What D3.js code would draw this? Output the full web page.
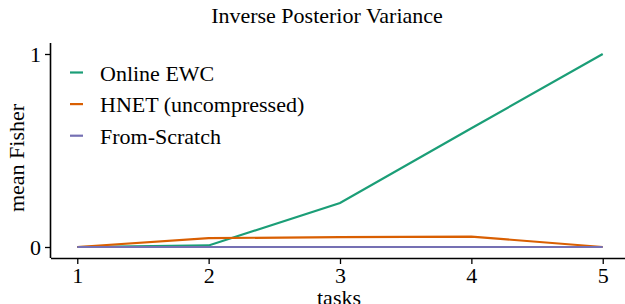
<!DOCTYPE html>
<html>
<head>
<meta charset="utf-8">
<script src="https://cdn.jsdelivr.net/npm/d3@7"></script>
<style>
  body { margin: 0; background: #fff; }
  svg { display: block; font-family: "Liberation Serif", "DejaVu Serif", serif; }
</style>
</head>
<body>
<svg id="chart" width="625" height="304"></svg>
<script>
const tasks = [1, 2, 3, 4, 5];
const onlineEwc = [0, 0.008, 0.228, 0.615, 1.0];
const hnet = [0, 0.046, 0.051, 0.054, 0];
const fromScratch = [0, 0, 0, 0, 0];
const seriesNames = ["Online EWC", "HNET (uncompressed)", "From-Scratch"];
const seriesColors = ["#1b9e77", "#d95f02", "#7570b3"];
const yTicks = [0, 1];

const svg = d3.select("#chart");
const plotLeft = 51, plotRight = 629, plotTop = 43, plotBottom = 258;
const fontSize = "22px";

const x = d3.scaleLinear().domain([0.8, 5.2]).range([plotLeft, plotRight]);
const y = d3.scaleLinear().domain([-0.057, 1.057]).range([plotBottom, plotTop]);

const allSeries = [onlineEwc, hnet, fromScratch];

// lines, purple drawn last so it sits on top like the reference
const line = d3.line().x((d, i) => x(tasks[i])).y(d => y(d));
allSeries.forEach((s, k) => {
  svg.append("path")
    .datum(s)
    .attr("fill", "none")
    .attr("stroke", seriesColors[k])
    .attr("stroke-width", 2.2)
    .attr("d", line);
});

// axes
const xAxis = d3.axisBottom(x).tickValues(tasks).tickFormat(d3.format("d")).tickSize(6).tickPadding(3);
const yAxis = d3.axisLeft(y).tickValues(yTicks).tickFormat(d3.format("d")).tickSize(6).tickPadding(4);

const gx = svg.append("g").attr("transform", `translate(0,${plotBottom})`).call(xAxis);
const gy = svg.append("g").attr("transform", `translate(${plotLeft},0)`).call(yAxis);
[gx, gy].forEach(g => {
  g.select(".domain").attr("stroke", "#000").attr("stroke-width", 1.6);
  g.selectAll(".tick line").attr("stroke", "#000").attr("stroke-width", 1.3);
  g.selectAll(".tick text").attr("fill", "#000")
    .style("font-family", "Liberation Serif, serif").style("font-size", fontSize);
});
gx.select(".domain").attr("d", `M${plotLeft},0.5H${plotRight}`);
gy.select(".domain").attr("d", `M-0.5,${plotTop}V${plotBottom}`);

// title and labels
svg.append("text").attr("x", 327).attr("y", 23).attr("text-anchor", "middle")
  .style("font-size", fontSize).text("Inverse Posterior Variance");
svg.append("text").attr("x", 339).attr("y", 305).attr("text-anchor", "middle")
  .style("font-size", fontSize).text("tasks");
svg.append("text").attr("transform", "translate(24,158) rotate(-90)").attr("text-anchor", "middle")
  .style("font-size", fontSize).text("mean Fisher");

// legend
const legend = svg.append("g");
seriesNames.forEach((name, i) => {
  const ly = 72.5 + i * 31.6;
  legend.append("line").attr("x1", 70).attr("x2", 83).attr("y1", ly).attr("y2", ly)
    .attr("stroke", seriesColors[i]).attr("stroke-width", 2.2);
  legend.append("text").attr("x", 100).attr("y", ly + 8)
    .style("font-size", fontSize).text(name);
});
</script>
</body>
</html>
